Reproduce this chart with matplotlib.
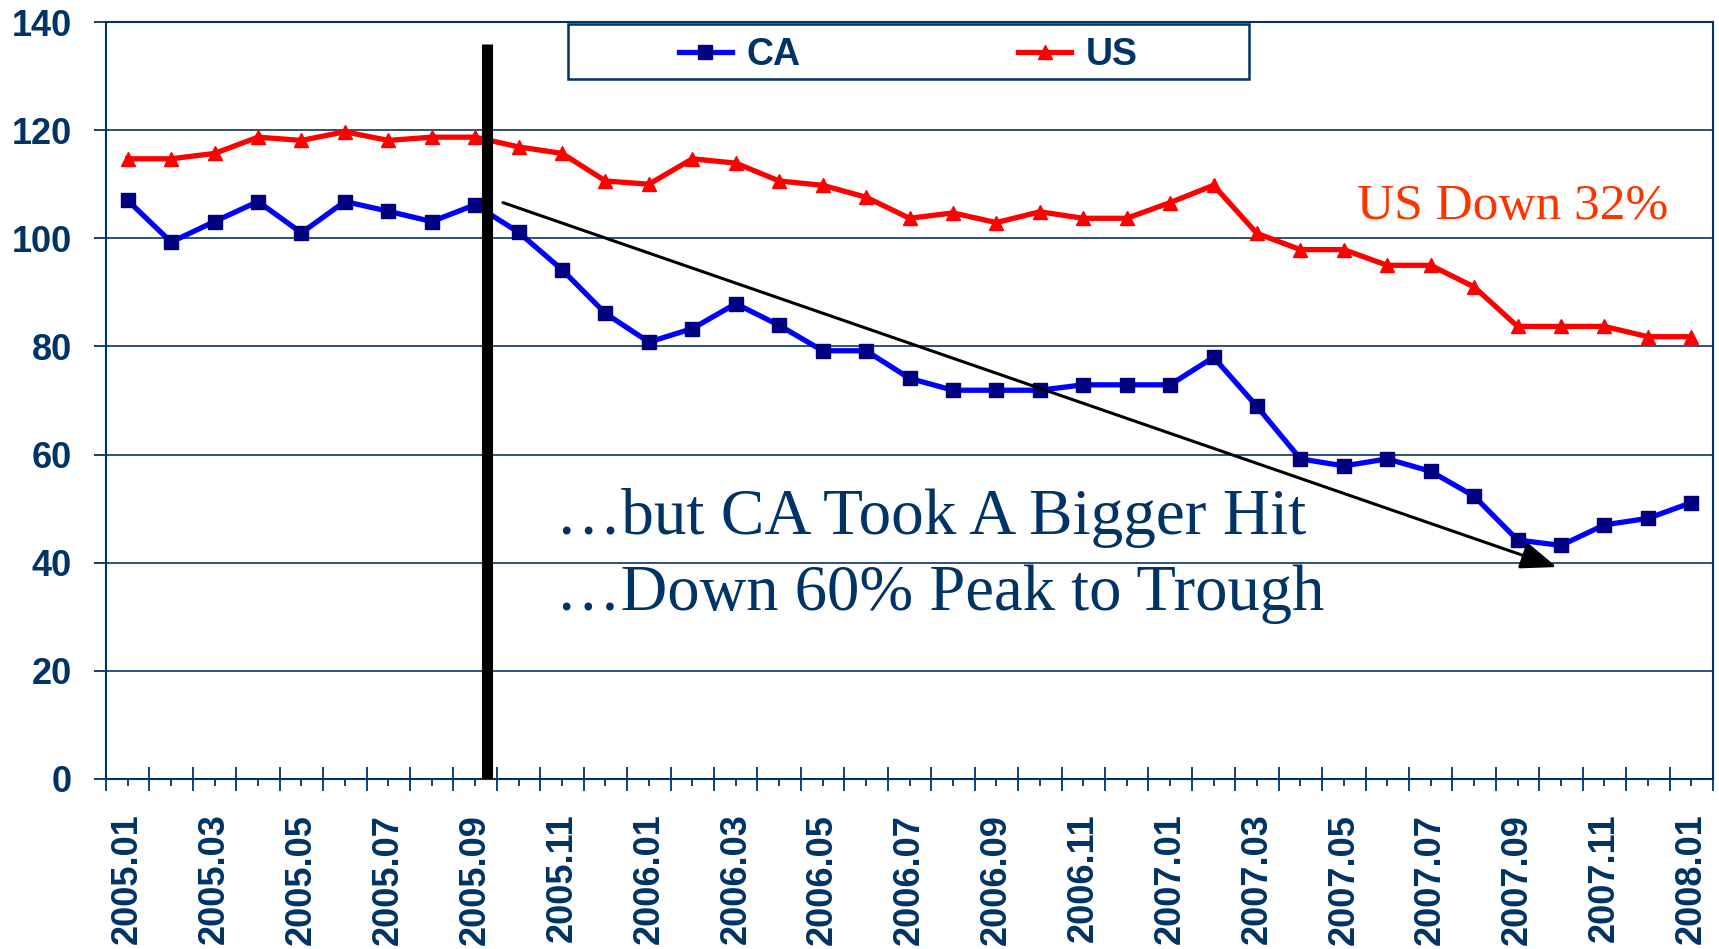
import matplotlib
matplotlib.use("Agg")
import matplotlib.pyplot as plt
from matplotlib.patches import Rectangle
from matplotlib.ticker import FixedLocator, FixedFormatter

months = ["2005.01", "2005.02", "2005.03", "2005.04", "2005.05", "2005.06",
          "2005.07", "2005.08", "2005.09", "2005.10", "2005.11", "2005.12",
          "2006.01", "2006.02", "2006.03", "2006.04", "2006.05", "2006.06",
          "2006.07", "2006.08", "2006.09", "2006.10", "2006.11", "2006.12",
          "2007.01", "2007.02", "2007.03", "2007.04", "2007.05", "2007.06",
          "2007.07", "2007.08", "2007.09", "2007.10", "2007.11", "2007.12",
          "2008.01"]

ca = [107, 99.3, 103.1, 106.8, 101, 106.8, 105, 103.1, 106.2, 101.1, 94.2, 86.1,
      80.8, 83.3, 87.9, 83.9, 79.2, 79.2, 74.1, 71.9, 71.9, 71.9, 72.9, 72.9,
      72.9, 78.0, 68.9, 59.2, 57.9, 59.2, 56.9, 52.3, 44.2, 43.2, 47.0, 48.2, 51.1]

us = [114.7, 114.7, 115.7, 118.7, 118.1, 119.7, 118.1, 118.7, 118.7, 116.9, 115.7, 110.6,
      110.0, 114.7, 113.9, 110.6, 109.8, 107.6, 103.7, 104.7, 102.9, 104.9, 103.7, 103.7,
      106.6, 109.8, 100.9, 97.9, 97.9, 95.0, 95.0, 91.0, 83.7, 83.7, 83.7, 81.8, 81.8]

y_ticks = [0, 20, 40, 60, 80, 100, 120, 140]

# annotation anchors (data coordinates)
marker_bar_x = 8.27
marker_bar_top = 136
arrow_start = (8.64, 106.6)
arrow_end = (32.9, 39.2)

NAVY = "#003366"
GRID = "#1F446E"

fig = plt.figure(figsize=(17.19, 9.49), dpi=100)
ax = fig.add_axes([106/1719, 1 - 779/949, (1713-106)/1719, (779-22)/949])

x = list(range(len(months)))
ax.plot(x, ca, color="#0000FF", lw=3.8, marker="s", ms=9.5,
        mfc="#000080", mec="#000080", label="CA", zorder=4)
ax.plot(x, us, color="#FF0000", lw=3.8, marker="^", ms=10.5,
        mfc="#FF0000", mec="#FF0000", label="US", zorder=4)

ax.set_xlim(-0.5, len(months) - 0.5)
ax.set_ylim(0, 140)

ax.yaxis.set_major_locator(FixedLocator(y_ticks))
ax.grid(axis="y", color=GRID, lw=1.3, zorder=1)
ax.set_axisbelow(True)

# x ticks: labels at every other category, long crossing ticks at boundaries
ax.xaxis.set_major_locator(FixedLocator(x))
ax.xaxis.set_major_formatter(FixedFormatter([m if i % 2 == 0 else "" for i, m in enumerate(months)]))
ax.xaxis.set_minor_locator(FixedLocator([i - 0.5 for i in range(len(months) + 1)]))
ax.tick_params(axis="x", which="major", direction="out", length=5, width=1.3,
               color=NAVY, pad=20, labelrotation=90)
ax.tick_params(axis="x", which="minor", direction="inout", length=17, width=1.3, color=NAVY)
ax.tick_params(axis="y", which="major", direction="out", length=8.6, width=1.3,
               color=NAVY, pad=16)

for lab in ax.get_xticklabels() + ax.get_yticklabels():
    lab.set_fontfamily("Liberation Sans")
    lab.set_fontweight("bold")
    lab.set_fontsize(26)
    lab.set_color(NAVY)
for lab in ax.get_xticklabels():
    lab.set_va("top")

for s in ax.spines.values():
    s.set_color(NAVY)
    s.set_linewidth(1.5)

# vertical black marker bar
ax.plot([marker_bar_x, marker_bar_x], [0, marker_bar_top], color="black", lw=8,
        solid_capstyle="butt", zorder=5)

# trend arrow
ax.annotate("", xy=arrow_end, xytext=arrow_start,
            arrowprops=dict(arrowstyle="-|>,head_length=2.2,head_width=0.85",
                            color="black", lw=2.2, shrinkA=0, shrinkB=0),
            zorder=6)

ax.text(9.87, 45.4, "\u2026but CA Took A Bigger Hit", family="Liberation Serif",
        fontsize=47, color=NAVY, va="baseline", ha="left", zorder=7)
ax.text(9.87, 31.2, "\u2026Down 60% Peak to Trough", family="Liberation Serif",
        fontsize=46.5, color=NAVY, va="baseline", ha="left", zorder=7)
ax.text(0.7786, 0.74, "US Down 32%", transform=ax.transAxes, family="Liberation Serif",
        fontsize=37, color="#FF3300", va="baseline", ha="left", zorder=7)

# legend box
lx0 = (568 - 106) / 1607
lx1 = (1249 - 106) / 1607
ly0 = (779 - 79) / 757
ly1 = (779 - 24) / 757
ax.add_patch(Rectangle((lx0, ly0), lx1 - lx0, ly1 - ly0, transform=ax.transAxes,
                       facecolor="white", edgecolor=NAVY, lw=1.8, zorder=8, clip_on=False))
leg = ax.legend(loc="center", bbox_to_anchor=((lx0 + lx1) / 2, (ly0 + ly1) / 2 - 0.005),
                ncol=2, frameon=False, handlelength=1.4, handletextpad=0.4,
                columnspacing=5.8, prop={"family": "Liberation Sans", "weight": "bold", "size": 27})
leg.set_zorder(9)
for t in leg.get_texts():
    t.set_color(NAVY)

fig.savefig("out.png", dpi=100)
